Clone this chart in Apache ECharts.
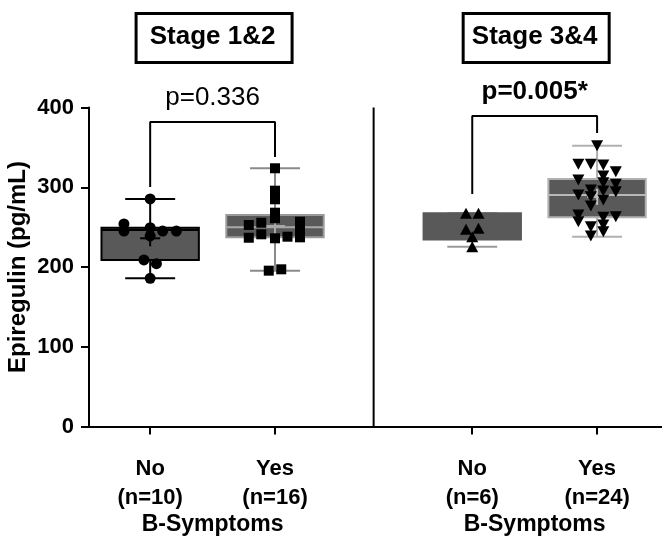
<!DOCTYPE html>
<html><head><meta charset="utf-8">
<script src="https://cdn.jsdelivr.net/npm/echarts@6/dist/echarts.min.js"></script>
<style>html,body{margin:0;padding:0;background:#fff}#c{width:662px;height:546px}</style>
</head><body><div id="c"></div>
<script>
// ---------- data ----------
const categories = ['No', 'Yes', 'No', 'Yes'];
const sampleSizes = ['(n=10)', '(n=16)', '(n=6)', '(n=24)'];
const panelTitles = ['Stage 1&2', 'Stage 3&4'];
const xAxisTitle = 'B-Symptoms';
const yAxisTitle = 'Epiregulin (pg/mL)';
const yTicks = [0, 100, 200, 300, 400];
const pValues = ['p=0.336', 'p=0.005*'];

const stage12No = [285.3, 254, 245.1, 249.3, 245, 245, 238.9, 208.8, 204.1, 185.8];
const stage12Yes = [323.8, 295.7, 284.9, 268.1, 261.1, 252.7, 255.5, 236.7, 241, 236, 238, 256.8, 246.4, 237.2, 195.4, 197.1];
const stage34No = [267.3, 267.3, 247.3, 248.5, 238, 225.5];
const stage34Yes = [352.1, 328.8, 328.8, 327.9, 319.5, 314.1, 309.1, 305.7, 303.7, 296.6, 295.3, 294.4, 290.3, 288.2, 284, 276.5, 265.2, 256.8, 262.3, 263.1, 252.7, 250.5, 244.3, 238.9];

// box statistics as drawn: min, Q1, median, Q3, max, mean
const boxMin    = [185.8, 195.4, 225.5, 238];
const boxQ1     = [208.8, 237.2, 234.5, 262.3];
const boxMedian = [246.4, 249.8, 248, 290.3];
const boxQ3     = [249.3, 265.2, 267.3, 310.3];
const boxMax    = [285.3, 323.8, 267.3, 352.1];
const boxMean   = [236, 251.4, 248, 288];

// ---------- layout (not data) ----------
const catPos = [0, 1, 2.58, 3.58];
const dividerPos = 1.79;
const jitter12No = [0, -0.21, -0.21, 0, 0.1, 0.21, 0, -0.05, 0.05, 0];
const jitter12Yes = [0, 0, 0, 0, 0, -0.21, -0.11, -0.21, -0.11, 0, 0.1, 0.2, 0.2, 0.2, -0.05, 0.05];
const jitter34No = [-0.05, 0.05, -0.05, 0.05, 0, 0];
const jitter34Yes = [0, -0.15, -0.05, 0.05, 0.15, 0.05, -0.15, 0.05, 0.15, -0.05, 0.05, 0.15, -0.15, -0.05, 0.05, -0.05, -0.15, -0.15, 0.05, 0.15, 0.05, -0.05, 0.05, -0.05];
const brackets = [
  {from: 0, to: 1, top: 381.8, legL: 300.3, legR: 338},
  {from: 2, to: 3, top: 389.3, legL: 291.5, legR: 367.9}
];
const FONT = 'Liberation Sans, Arial, Helvetica, sans-serif';
const FILL = '#595959';
const boxStyles = [
  {border: '#000', whisker: '#000', median: '#000', mean: '#000'},
  {border: '#9a9a9a', whisker: '#8a8a8a', median: '#a8a8a8', mean: '#a8a8a8'},
  {border: FILL, whisker: '#9a9a9a', median: FILL, mean: null},
  {border: '#b0b0b0', whisker: '#b0b0b0', median: '#b8b8b8', mean: '#c0c0c0'}
];

const boxData = catPos.map((x, i) => [x, boxMin[i], boxQ1[i], boxMedian[i], boxQ3[i], boxMax[i], boxMean[i]]);

function renderBox(params, api) {
  const i = params.dataIndex;
  const st = boxStyles[i];
  const x = api.value(0);
  const hw = 0.39, cw = 0.2;
  const c = (dx, v) => api.coord([x + dx, v]);
  const vmin = api.value(1), q1 = api.value(2), med = api.value(3), q3 = api.value(4), vmax = api.value(5), mean = api.value(6);
  const ch = [];
  const ln = (a, b, color, w) => ({type: 'line', shape: {x1: a[0], y1: a[1], x2: b[0], y2: b[1]}, style: {stroke: color, lineWidth: w}});
  ch.push(ln(c(0, vmin), c(0, vmax), st.whisker, 2));
  ch.push(ln(c(-cw, vmin), c(cw, vmin), st.whisker, 2));
  ch.push(ln(c(-cw, vmax), c(cw, vmax), st.whisker, 2));
  const tl = c(-hw, q3), br = c(hw, q1);
  ch.push({type: 'rect', shape: {x: tl[0], y: tl[1], width: br[0] - tl[0], height: br[1] - tl[1]}, style: {fill: FILL, stroke: st.border, lineWidth: 2}});
  ch.push(ln(c(-hw, med), c(hw, med), st.median, 2));
  if (st.mean) {
    const m = c(0, mean);
    ch.push(ln([m[0] - 10, m[1]], [m[0] + 10, m[1]], st.mean, 2));
    ch.push(ln([m[0], m[1] - 8], [m[0], m[1] + 8], st.mean, 2));
  }
  return {type: 'group', children: ch};
}

function pts(vals, jit, k) { return vals.map((v, i) => [catPos[k] + jit[i], v]); }

const dot = {color: '#000', opacity: 1};
const series = [
  {type: 'custom', renderItem: renderBox, data: boxData, encode: {x: 0, y: [1, 5]}, z: 2, silent: true},
  {type: 'line', data: [[dividerPos, 0], [dividerPos, 400]], symbol: 'none', lineStyle: {color: '#000', width: 2}, z: 1, silent: true},
  {type: 'scatter', data: pts(stage12No, jitter12No, 0), symbol: 'circle', symbolSize: 11, itemStyle: dot, z: 5},
  {type: 'scatter', data: pts(stage12Yes, jitter12Yes, 1), symbol: 'rect', symbolSize: 10, itemStyle: dot, z: 5},
  {type: 'scatter', data: pts(stage34No, jitter34No, 2), symbol: 'triangle', symbolSize: [12, 11], itemStyle: dot, z: 5},
  {type: 'scatter', data: pts(stage34Yes, jitter34Yes, 3), symbol: 'triangle', symbolRotate: 180, symbolSize: [12, 11], itemStyle: dot, z: 5}
];
brackets.forEach((b, k) => {
  const x0 = catPos[b.from], x1 = catPos[b.to];
  series.push({type: 'line', data: [[x0, b.legL], [x0, b.top], [x1, b.top], [x1, b.legR]], symbol: 'none', lineStyle: {color: '#000', width: 2}, z: 3, silent: true});
  series.push({type: 'scatter', data: [[(x0 + x1) / 2, b.top]], symbolSize: 1, itemStyle: {color: 'rgba(0,0,0,0)', opacity: 1}, silent: true,
    label: {show: true, position: 'top', distance: 11, formatter: pValues[k], color: '#000', opacity: 1, fontFamily: FONT, fontSize: 26, fontWeight: k === 1 ? 'bold' : 'normal'}});
});

const chart = echarts.init(document.getElementById('c'), null, {renderer: 'canvas'});
chart.setOption({
  animation: false,
  backgroundColor: '#fff',
  grid: {left: 89, right: 0, top: 107.5, bottom: 119.5, containLabel: false, outerBoundsMode: 'none'},
  xAxis: {
    type: 'value', min: -0.49, max: 4.1,
    splitLine: {show: false},
    axisLine: {show: true, onZero: false, lineStyle: {color: '#000', width: 2}},
    axisTick: {show: true, customValues: catPos, length: 8, lineStyle: {color: '#000', width: 2}},
    axisLabel: {
      customValues: catPos, margin: 28, lineHeight: 29,
      fontFamily: FONT, fontSize: 22, fontWeight: 'bold', color: '#000',
      formatter: v => { const i = catPos.findIndex(p => Math.abs(p - v) < 1e-6); return i < 0 ? '' : categories[i] + '\n' + sampleSizes[i]; }
    }
  },
  yAxis: {
    type: 'value', min: yTicks[0], max: yTicks[yTicks.length - 1], interval: 100,
    splitLine: {show: false},
    axisLine: {show: true, onZero: false, lineStyle: {color: '#000', width: 2}},
    axisTick: {show: true, length: 8, lineStyle: {color: '#000', width: 2}},
    axisLabel: {margin: 15, fontFamily: FONT, fontSize: 22, fontWeight: 'bold', color: '#000'},
    name: yAxisTitle, nameLocation: 'middle', nameGap: 59, nameRotate: 90, nameMoveOverlap: false,
    nameTextStyle: {fontFamily: FONT, fontSize: 24, fontWeight: 'bold', color: '#000'}
  },
  series: series
});

const px = v => chart.convertToPixel({xAxisIndex: 0, yAxisIndex: 0}, [v, 0])[0];
const titleWidths = [156, 146];
const graphics = [];
[0, 1].forEach(g => {
  const cx = (px(catPos[2 * g]) + px(catPos[2 * g + 1])) / 2;
  graphics.push({type: 'rect', left: cx - titleWidths[g] / 2, top: 12, shape: {width: titleWidths[g], height: 49}, style: {fill: '#fff', stroke: '#000', lineWidth: 3}});
  graphics.push({type: 'text', x: cx, y: 37, style: {text: panelTitles[g], font: 'bold 26px ' + FONT, fill: '#000', align: 'center', verticalAlign: 'middle'}});
  graphics.push({type: 'text', x: cx, y: 525, style: {text: xAxisTitle, font: 'bold 23px ' + FONT, fill: '#000', align: 'center', verticalAlign: 'middle'}});
});
chart.setOption({graphic: graphics});
</script>
</body></html>
